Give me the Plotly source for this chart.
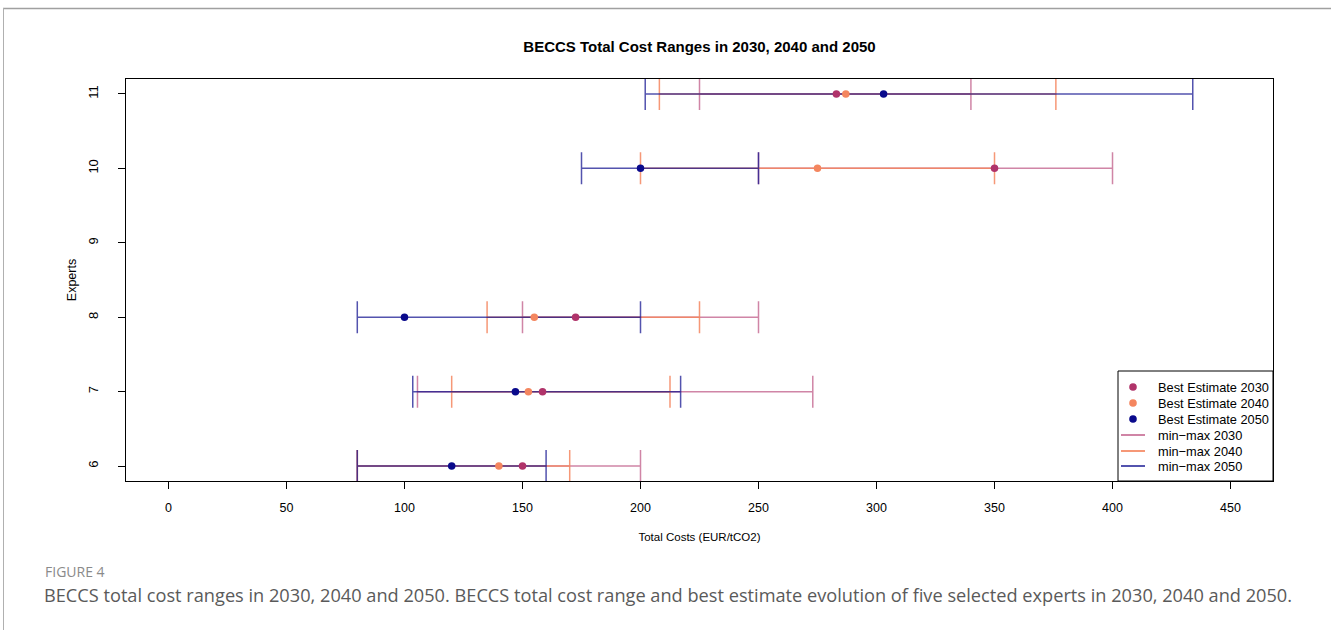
import plotly.graph_objects as go

# Expert ids shown on the y axis
experts = [6, 7, 8, 10, 11]

# Total cost estimates (EUR/tCO2) per expert
min_2030 = [80, 105.5, 150, 250, 225]
best_2030 = [150, 158.5, 172.5, 350, 283]
max_2030 = [200, 273, 250, 400, 340]

min_2040 = [80, 120, 135, 200, 208]
best_2040 = [140, 152.5, 155, 275, 287]
max_2040 = [170, 212.5, 225, 350, 376]

min_2050 = [80, 103.5, 80, 175, 202]
best_2050 = [120, 147, 100, 200, 303]
max_2050 = [160, 217, 200, 250, 434]

years = ["2030", "2040", "2050"]
point_colors = {"2030": "#B0336A", "2040": "#F4865F", "2050": "#0A0A8C"}
range_colors = {"2030": "rgba(176,51,106,0.6)",
                "2040": "rgba(244,134,95,0.85)",
                "2050": "rgba(10,10,140,0.7)"}
series = {
    "2030": (min_2030, best_2030, max_2030),
    "2040": (min_2040, best_2040, max_2040),
    "2050": (min_2050, best_2050, max_2050),
}

FONT = "Liberation Sans, Arial, sans-serif"

fig = go.Figure()

# min-max ranges as horizontal error bars around the best estimate
for yr in years:
    lo, best, hi = series[yr]
    fig.add_trace(go.Scatter(
        x=best, y=experts, mode="markers",
        marker=dict(size=1, color="rgba(0,0,0,0)"),
        error_x=dict(type="data", symmetric=False,
                     array=[h - b for h, b in zip(hi, best)],
                     arrayminus=[b - l for b, l in zip(best, lo)],
                     color=range_colors[yr], thickness=1.5, width=16),
        showlegend=False, hoverinfo="skip",
    ))

# best estimates on top
for yr in years:
    lo, best, hi = series[yr]
    fig.add_trace(go.Scatter(
        x=best, y=experts, mode="markers",
        marker=dict(size=7.5, color=point_colors[yr]),
        name=f"Best Estimate {yr}", showlegend=False,
    ))

L, R, T, B = 126, 1273, 79, 481
W, H = 1331, 630
pw, ph = R - L, B - T


def px(x):
    return (x - L) / pw


def py(y):
    return (B - y) / ph


shapes = [
    # page frame
    dict(type="line", xref="paper", yref="paper",
         x0=px(3), x1=px(W), y0=py(8.5), y1=py(8.5),
         line=dict(color="#a0a0a0", width=1.5)),
    dict(type="line", xref="paper", yref="paper",
         x0=px(3.5), x1=px(3.5), y0=py(8), y1=py(H),
         line=dict(color="#b0b0b0", width=1)),
    # legend box
    dict(type="rect", xref="paper", yref="paper",
         x0=px(1118), x1=1, y0=0, y1=py(371),
         line=dict(color="black", width=1), fillcolor="white", layer="above"),
]
annotations = [
    dict(text="FIGURE 4", xref="paper", yref="paper",
         x=px(43), y=py(571), xanchor="left", yanchor="middle",
         showarrow=False, font=dict(family="Open Sans", size=14, color="#8a8a8a")),
    dict(text="BECCS total cost ranges in 2030, 2040 and 2050. BECCS total cost range "
              "and best estimate evolution of five selected experts in 2030, 2040 and 2050.",
         xref="paper", yref="paper", x=px(42), y=py(595),
         xanchor="left", yanchor="middle", showarrow=False,
         font=dict(family="Open Sans", size=18.2, color="#5a5a5a")),
]

# legend rows: three point keys then three range keys
row_y = [387, 403, 419, 435, 451, 466]
for i, yr in enumerate(years):
    yy = py(row_y[i])
    shapes.append(dict(type="circle", xref="paper", yref="paper",
                       xsizemode="pixel", ysizemode="pixel",
                       xanchor=px(1133), yanchor=yy,
                       x0=-3.8, x1=3.8, y0=-3.8, y1=3.8,
                       line=dict(width=0), fillcolor=point_colors[yr], layer="above"))
    annotations.append(dict(text=f"Best Estimate {yr}", xref="paper", yref="paper",
                            x=px(1156), y=yy, xanchor="left", yanchor="middle",
                            showarrow=False, font=dict(family=FONT, size=12.8)))
for i, yr in enumerate(years):
    yy = py(row_y[i + 3])
    shapes.append(dict(type="line", xref="paper", yref="paper",
                       x0=px(1121), x1=px(1145), y0=yy, y1=yy,
                       line=dict(color=range_colors[yr], width=2), layer="above"))
    annotations.append(dict(text=f"min\u2212max {yr}", xref="paper", yref="paper",
                            x=px(1156), y=yy, xanchor="left", yanchor="middle",
                            showarrow=False, font=dict(family=FONT, size=12.8)))

fig.update_layout(
    width=W, height=H,
    margin=dict(l=L, r=W - R, t=T, b=H - B, pad=0),
    paper_bgcolor="white", plot_bgcolor="white",
    font=dict(family=FONT, size=12, color="black"),
    showlegend=False,
    title=dict(text="<b>BECCS Total Cost Ranges in 2030, 2040 and 2050</b>",
               x=px(699.5), xref="paper", xanchor="center",
               y=1 - 47 / H, yanchor="middle",
               font=dict(family=FONT, size=15, color="black")),
    xaxis=dict(range=[-18, 468], tickvals=[0, 50, 100, 150, 200, 250, 300, 350, 400, 450],
               showgrid=False, zeroline=False, showline=True, mirror=True,
               linecolor="black", linewidth=1, ticks="outside", ticklen=7,
               tickcolor="black", ticklabelstandoff=8,
               tickfont=dict(size=12.5),
               title=dict(text="Total Costs (EUR/tCO2)", standoff=18,
                          font=dict(size=11.5))),
    yaxis=dict(range=[5.8, 11.2], tickvals=[6, 7, 8, 9, 10, 11],
               showgrid=False, zeroline=False, showline=True, mirror=True,
               linecolor="black", linewidth=1, ticks="outside", ticklen=7,
               tickcolor="black", tickangle=-90, ticklabelstandoff=15,
               tickfont=dict(size=13),
               title=dict(text="Experts", standoff=6, font=dict(size=12.5))),
    shapes=shapes,
    annotations=annotations,
)

fig.write_html("out.html")
